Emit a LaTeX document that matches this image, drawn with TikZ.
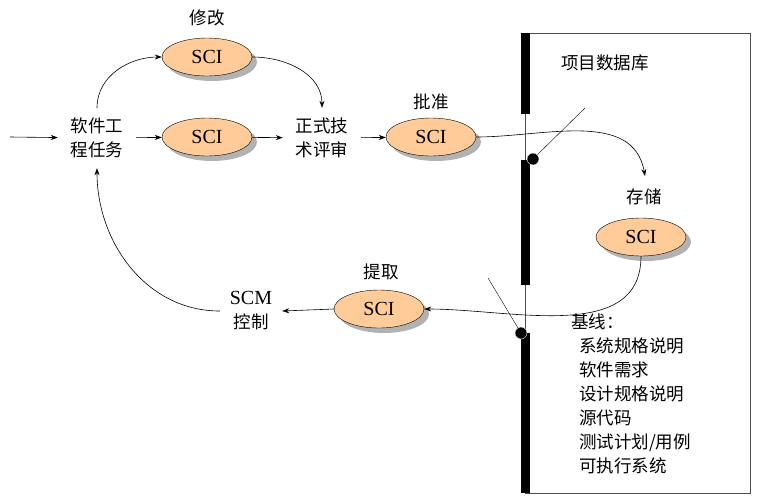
\documentclass[tikz,border=0pt]{standalone}
\usepackage{fontspec}
\setmainfont{Liberation Serif}
\newfontfamily\cjk{Noto Sans CJK SC}
\usetikzlibrary{arrows.meta,shadows,shapes.geometric}
\tikzset{
  sci/.style={ellipse, draw, fill=orange!40, minimum width=90pt, minimum height=38pt,
    inner sep=0pt, font=\fontsize{20}{24}\selectfont,
    drop shadow={shadow xshift=5pt, shadow yshift=-5pt, fill=black!30, opacity=1}},
  lbl/.style={font=\cjk\fontsize{17.5}{24}\selectfont, align=center, inner sep=0pt},
  flow/.style={-{Stealth[length=7pt,width=5pt]}, line width=0.6pt},
  bar/.style={line width=9pt},
}
\begin{document}
\begin{tikzpicture}[x=1pt,y=-1pt]
  \useasboundingbox (0,0) rectangle (764,499);
  % 项目数据库框
  \draw[black!70] (525,33) rectangle (750,493);
  \draw[bar] (525.5,33) -- (525.5,114);
  \draw[bar] (525.5,160) -- (525.5,285);
  \draw[bar] (525.5,333) -- (525.5,493);
  \node[lbl] (db) at (605,63) {项目数据库};
  \node[lbl, align=left, anchor=north west] (base) at (571,314)
    {基线：\\\ \ 系统规格说明\\\ \ 软件需求\\\ \ 设计规格说明\\\ \ 源代码\\\ \ 测试计划/用例\\\ \ 可执行系统};

  % 节点
  \node[sci] (mod) at (207,57) {SCI};
  \node[sci] (mid) at (207,137) {SCI};
  \node[sci] (app) at (431,137) {SCI};
  \node[sci] (sto) at (641,237) {SCI};
  \node[sci] (ext) at (379,309) {SCI};
  \node[lbl] at (207,18) {修改};
  \node[lbl] at (431,102) {批准};
  \node[lbl] at (644,197) {存储};
  \node[lbl] at (381,272) {提取};
  \node[lbl, minimum width=78pt, minimum height=60pt] (task) at (97,138) {软件工\\程任务};
  \node[lbl, minimum width=78pt, minimum height=60pt] (ftr) at (322,138) {正式技\\术评审};
  \node[lbl, font=\fontsize{20}{24}\selectfont, minimum width=62pt] (scm) at (251,311)
    {SCM\\{\cjk\fontsize{17.5}{24}\selectfont 控制}};
  \coordinate (in) at (10,137);
  \coordinate (stin) at (645,176);

  % 连线
  \draw[flow] (in) -- (task);
  \draw[flow] (task) -- (mid);
  \draw[flow] (mid) -- (ftr);
  \draw[flow] (ftr) -- (app);
  \draw[flow] (task.north) to[out=90,in=180] (mod.west);
  \draw[flow] (mod.east) to[out=0,in=90] (ftr.north);
  \draw[flow] (app.east) to[out=0,in=100] (stin);
  \draw[flow] (sto.south) to[out=-90,in=0] (ext.east);
  \draw[flow] (ext.west) -- (scm.east);
  \draw[flow] (scm.west) to[out=180,in=-90] (task.south);

  % 检入检出点
  \coordinate (p1) at (533,159);
  \coordinate (p2) at (521,333);
  \draw[thin] (p1) -- (585,108);
  \draw[thin] (p2) -- (488,278);
  \fill[draw=white] (p1) circle[radius=6];
  \fill[draw=white] (p2) circle[radius=6];
\end{tikzpicture}
\end{document}
